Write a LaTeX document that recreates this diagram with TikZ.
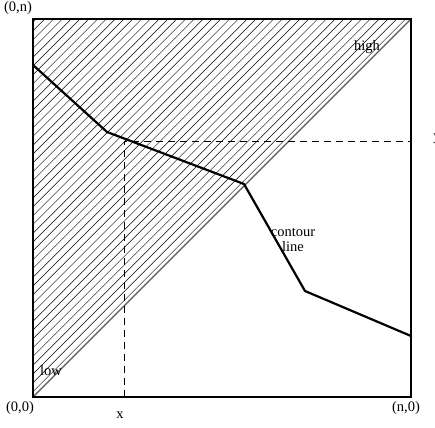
\documentclass[tikz,border=0pt]{standalone}
\usepackage{fontspec}
\setmainfont{Liberation Serif}
\begin{document}
\begin{tikzpicture}[x=1pt,y=-1pt,
  lbl/.style={inner sep=0pt,font=\fontsize{14.5}{15}\selectfont},
  frame/.style={line width=1.3pt},
  hatch/.style={line width=0.45pt},
  diag/.style={line width=1.1pt,draw=black!65},
  contour/.style={line width=2.2pt,line join=round},
  guide/.style={line width=0.8pt,dash pattern=on 7pt off 5pt}]
\useasboundingbox (0,0) rectangle (435,427);
% hatching
\begin{scope}
  \clip (33,19) -- (33,397) -- (411,19) -- cycle;
  \foreach \c in {55,63.8,...,432}{
    \draw[hatch] (\c-19,19) -- (33,\c-33);
  }
\end{scope}
% diagonal
\coordinate (o) at (33,397);
\coordinate (tr) at (411,19);
\draw[diag] (o) -- (tr);
% frame
\coordinate (tl) at (33,19);
\coordinate (br) at (411,397);
\draw[frame] (tl) rectangle (br);
% guides
\coordinate (xb) at (124,397);
\coordinate (xt) at (124,141);
\coordinate (yr) at (411,141);
\draw[guide] (xb) -- (xt) -- (yr);
% contour
\coordinate (c0) at (33,65);
\coordinate (c1) at (107,132);
\coordinate (c2) at (244,184);
\coordinate (c3) at (305,291);
\coordinate (c4) at (411,336);
\draw[contour] (c0) -- (c1) -- (c2) -- (c3) -- (c4);
% labels
\node[lbl] (l0n) at (18,8) {(0,n)};
\node[lbl] (lhigh) at (367,47) {high};
\node[lbl] (llow) at (51,371) {low};
\node[lbl] (l00) at (20,408) {(0,0)};
\node[lbl] (lx) at (120,415) {x};
\node[lbl] (ln0) at (406,408) {(n,0)};
\node[lbl,align=center] (lc) at (293,240) {contour\\line};
\node[lbl] (ly) at (437,139) {y};
\end{tikzpicture}
\end{document}
